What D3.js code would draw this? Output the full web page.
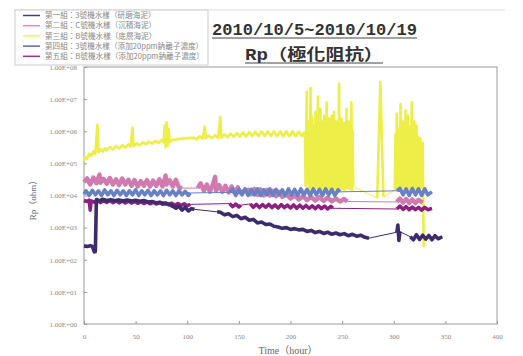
<!DOCTYPE html>
<head>
<meta charset="utf-8">
<title>Rp</title>
<script src="https://d3js.org/d3.v7.min.js"></script>
<style>
  body { margin: 0; background: #fff; }
  svg { display: block; }
</style>
</head>
<body>
<div id="container"></div>
<script>
// ---------------------------- DATA ---------------------------- //
// [time (hour), Rp (ohm)]
var seriesNames = [
  "第一組：3號機水樣（研磨海泥）",
  "第二組：C號機水樣（沉積海泥）",
  "第三組：B號機水樣（底層海泥）",
  "第四組：3號機水樣（添加20ppm鈉離子濃度）",
  "第五組：B號機水樣（添加20ppm鈉離子濃度）"
];
var seriesColors = ["#3c2c6c", "#d07ab0", "#eeee48", "#6880c4", "#8c1f80"];
var legendColors = ["#4a3c80", "#d890c8", "#f0f070", "#5868a8", "#a03090"];

var xTicks = [0, 50, 100, 150, 200, 250, 300, 350, 400];
var yTicks = [1e0, 1e1, 1e2, 1e3, 1e4, 1e5, 1e6, 1e7, 1e8];

var group1 = [[0,270],[3,260],[6,275],[8,265],[10,175],[11,180],[12,7500],[15,6800],[18,7600],[22,7000],[26,7400],[30,6900],[34,7300],[38,6800],[42,7200],[46,6700],[50,7100],[54,6600],[58,7000],[62,6300],[66,6500],[70,5900],[74,6100],[78,5600],[82,5400],[86,4600],[89,4000],[92,4600],[95,3500],[98,4300],[101,3300],[104,3900],[107,3700],[129,3100],[132,3000],[136,2500],[140,2700],[144,2200],[148,2400],[152,1900],[156,2100],[160,1700],[164,1800],[168,1400],[172,1500],[176,1250],[180,1300],[184,1100],[188,1050],[192,950],[196,1000],[200,880],[204,930],[208,850],[212,880],[216,760],[220,820],[224,700],[228,760],[232,660],[236,720],[240,620],[244,680],[248,600],[252,650],[256,560],[260,620],[264,540],[268,580],[272,500],[276,470],[303,720],[304,1200],[305,400],[306,750],[316,520],[319,420],[322,600],[325,430],[328,580],[331,440],[334,570],[337,420],[340,560],[343,450],[347,520]];

var group2 = [[0,26000],[3,34000],[6,22000],[9,36000],[12,24000],[15,45000],[16,25000],[19,33000],[22,23000],[25,35000],[28,22000],[31,32000],[34,21000],[37,34000],[40,22000],[43,31000],[46,20000],[49,30000],[52,19000],[55,28000],[58,20000],[61,30000],[64,19000],[67,29000],[70,20000],[73,32000],[76,19000],[79,42000],[80,22000],[83,30000],[86,19000],[89,31000],[92,18000],[95,17000],[110,17000],[113,24000],[116,14000],[119,22000],[122,13000],[125,23000],[127,38000],[128,14000],[131,21000],[134,13000],[137,20000],[140,12500],[143,19000],[146,12000],[149,18000],[151,12500],[159,15000],[162,11000],[165,16000],[168,10500],[171,15500],[174,10000],[177,15000],[180,10000],[183,14000],[186,9500],[189,13000],[192,9000],[196,11000],[200,8000],[204,10000],[208,7500],[212,9500],[216,7200],[220,9000],[224,7000],[228,8800],[232,6800],[236,8500],[240,6600],[244,8000],[248,6500],[252,7800],[255,6500],[303,6300],[306,8000],[309,6000],[312,7800],[315,5800],[318,7600],[321,5800],[324,7400],[328,6000]];

var group3 = [[0,1.2e5],[1,1.6e5],[3,1.4e5],[5,2.0e5],[7,1.7e5],[9,2.4e5],[11,2.0e5],[13,1.6e6],[14,2.2e5],[16,2.8e5],[18,2.3e5],[20,3.0e5],[22,2.5e5],[25,3.2e5],[28,2.7e5],[31,3.5e5],[34,2.9e5],[37,3.7e5],[40,3.1e5],[43,3.9e5],[45,3.3e5],[47,1.3e6],[48,3.4e5],[51,4.2e5],[54,3.6e5],[57,4.5e5],[60,3.9e5],[63,4.8e5],[66,4.1e5],[69,5.0e5],[72,4.3e5],[75,5.3e5],[77,4.5e5],[78,1.5e6],[79,3.2e5],[80,1.9e6],[81,3.5e5],[82,1.2e6],[83,4.6e5],[86,5.4e5],[90,5.6e5],[95,5.9e5],[100,6.1e5],[106,6.3e5],[109,5.6e5],[112,7.0e5],[115,5.9e5],[117,1.4e6],[118,6.0e5],[121,7.3e5],[124,6.1e5],[127,7.5e5],[130,6.2e5],[132,2.8e6],[133,6.3e5],[136,8.0e5],[139,6.5e5],[142,8.4e5],[145,6.7e5],[148,8.8e5],[151,6.8e5],[154,9.2e5],[157,6.9e5],[160,9.5e5],[163,7.0e5],[166,9.8e5],[169,7.0e5],[172,1.0e6],[175,7.1e5],[178,1.0e6],[181,7.1e5],[184,1.0e6],[187,7.0e5],[190,1.0e6],[193,7.0e5],[196,1.0e6],[199,7.0e5],[202,1.0e6],[205,7.0e5],[208,9.8e5],[211,7.0e5],[213,9.0e5],
  [214,7e5],[214.6,2e4],[215.2,9e5],[215.8,1.7e7],[216.4,2.5e4],[217,1.2e6],[217.6,1.8e4],[218.2,2e6],[218.8,1.5e4],[219.4,2.2e7],[220,2e4],[220.6,3e6],[221.2,1.8e4],[221.8,8e5],[222.4,2.5e4],[223,1.5e6],[223.6,1.6e4],[224.2,4e6],[224.8,2e4],[225.4,1e6],[226,1.7e4],[226.6,1.2e7],[227.2,2.2e4],[227.8,1.3e6],[228.4,1.6e4],[229,5e6],[229.6,2.4e4],[230.2,9e5],[230.8,1.5e4],[231.4,2e6],[232,2e4],[232.6,3e6],[233.2,1.7e4],[233.8,1.1e6],[234.4,2.3e4],[235,8e6],[235.6,1.6e4],[236.2,1.4e6],[236.8,2e4],[237.4,2.5e6],[238,1.5e4],[238.6,9e5],[239.2,2.2e4],[239.8,3e6],[240.4,1.7e4],[241,1.2e6],[241.6,2e4],[242.2,4e6],[242.8,1.6e4],[243.4,1e6],[244,2.4e4],[244.6,2e6],[245.2,1.5e4],[245.8,1.3e6],[246.4,2e4],[247,3e7],[247.6,1.7e4],[248.2,1.1e6],[248.8,2.2e4],[249.4,2.5e6],[250,1.6e4],[250.6,9e5],[251.2,2e4],[251.8,1.8e6],[252.4,1.5e4],[253,1.2e6],[253.6,2.2e4],[254.2,5e6],[254.8,1.7e4],[255.4,1e6],[256,2e4],[256.6,2e6],[257.2,1.6e4],[257.8,1.3e6],[258.4,2.3e4],[259,8e6],[259.6,1.5e4],[260.2,1e6],[260.8,1.9e4],
  [284,8300],[287,3.4e7],[290,9000],
  [301,1.5e4],[301.7,8e5],[302.4,2e4],[303,3.5e6],[303.6,1.6e4],[304.2,1.2e6],[304.8,2.2e4],[305.4,9e5],[306,1.5e4],[306.6,7e6],[307.2,2e4],[307.8,1.5e6],[308.4,1.7e4],[309,2e6],[309.6,2.3e4],[310.2,1e6],[310.8,1.6e4],[311.4,4.5e6],[312,2e4],[312.6,1.2e6],[313.2,1.5e4],[313.8,3e6],[314.4,2.2e4],[315,9e5],[315.6,1.6e4],[316.2,1.4e6],[316.8,2e4],[317.4,8e6],[318,1.5e4],[318.6,1.1e6],[319.2,2.5e4],[319.8,2e6],[320.4,1.6e4],[321,9e5],[321.6,2e4],[322.2,1.5e6],[322.8,1.5e4],[323.4,7e5],[324,2e4],[324.6,5e5],[325.2,1.6e4],[325.8,6e5],[326.4,1.8e4],[327,4e5],[327.6,2e4],[328,4.4e5],[329,250]];

var group4 = [[0,11000],[2,14000],[5,10000],[8,14500],[11,10500],[14,14000],[17,10000],[20,15000],[23,10500],[26,14000],[29,10000],[32,14500],[35,10500],[38,14000],[41,10000],[44,14000],[47,10500],[50,15000],[53,10000],[56,14000],[59,10500],[62,14500],[65,10000],[68,14000],[71,10500],[74,14000],[77,10000],[80,14500],[83,10500],[86,14000],[89,10000],[92,14000],[95,10500],[98,13500],[101,10000],[103,12000],[141,12500],[144,16000],[147,10000],[150,15500],[153,10500],[156,16000],[159,10000],[162,15500],[165,10500],[168,16000],[171,10000],[174,15000],[177,10500],[180,16000],[183,10000],[186,15500],[189,10500],[192,15000],[195,10000],[198,16000],[201,10500],[204,15500],[207,10000],[210,16000],[213,10500],[216,15500],[219,10000],[222,16000],[225,10500],[228,15500],[231,10000],[234,16000],[237,10500],[240,15500],[243,10000],[246,15000],[248,13000],[303,14000],[306,16500],[309,10500],[312,16000],[315,10000],[318,16500],[321,10500],[324,16000],[327,10000],[330,16000],[333,10500],[337,13000]];

var group5 = [[0,7000],[3,6500],[5,7200],[6,3500],[7,6800],[10,6200],[13,7000],[16,6000],[19,6900],[22,6100],[25,7000],[28,6000],[31,6800],[34,5900],[37,6700],[40,5900],[43,6600],[46,5800],[49,6500],[52,5700],[55,6400],[58,5600],[61,6300],[64,5500],[67,6200],[70,5400],[73,6100],[76,5300],[79,5900],[82,5200],[85,5800],[88,5000],[91,5600],[94,4900],[97,5500],[100,4800],[103,5300],[141,5600],[144,4500],[147,5400],[150,4400],[152,5000],[161,5500],[164,4300],[167,5300],[170,4200],[173,5200],[176,4300],[179,5300],[182,4200],[185,5100],[188,4100],[191,5200],[194,4200],[197,5000],[200,4100],[203,5100],[206,4000],[209,5000],[212,4000],[215,4900],[218,4000],[221,4800],[224,3900],[227,4800],[230,3900],[233,4700],[236,3800],[239,4600],[241,4000],[303,3800],[306,4700],[309,3700],[312,4500],[315,3600],[318,4400],[321,3600],[324,4300],[327,3500],[330,4300],[333,3600],[337,4000]];

var allSeries = [group1, group2, group3, group4, group5];
var drawOrder = [2, 1, 3, 4, 0];

// ---------------------------- SVG ----------------------------- //
var W = 523, H = 356;
var plot = { left: 84, right: 497, top: 67, bottom: 324 };

var svg = d3.select("#container").append("svg")
  .attr("width", W).attr("height", H);

svg.append("rect").attr("width", W).attr("height", H).attr("fill", "#fff");

var xScale = d3.scaleLinear().domain([0, 400]).range([plot.left, plot.right]);
var yScale = d3.scaleLog().domain([1, 1e8]).range([plot.bottom, plot.top]);

// outer top line
svg.append("line")
  .attr("x1", 15).attr("x2", 505).attr("y1", 10).attr("y2", 10)
  .attr("stroke", "#ddd").attr("stroke-width", 1);

// --------------------------- AXES ----------------------------- //
var sciFmt = function (d) {
  var e = Math.round(Math.log10(d));
  return "1.00E+" + (e < 10 ? "0" + e : e);
};

var yAxis = d3.axisLeft(yScale)
  .tickValues(yTicks)
  .tickFormat(sciFmt)
  .tickSizeInner(-3).tickSizeOuter(0)
  .tickPadding(7);

var xAxis = d3.axisBottom(xScale)
  .tickValues(xTicks)
  .tickFormat(d3.format("d"))
  .tickSizeInner(-3).tickSizeOuter(0)
  .tickPadding(10);

var gy = svg.append("g")
  .attr("transform", "translate(" + plot.left + ",0)")
  .call(yAxis);
var gx = svg.append("g")
  .attr("transform", "translate(0," + plot.bottom + ")")
  .call(xAxis);

[gx, gy].forEach(function (g) {
  g.select(".domain").remove();
  g.selectAll(".tick line").attr("stroke", "#999");
  g.selectAll(".tick text")
    .attr("fill", "#888")
    .style("font-family", "Liberation Serif, serif")
    .style("font-size", "7px");
});

svg.append("rect")
  .attr("x", plot.left).attr("y", plot.top)
  .attr("width", plot.right - plot.left).attr("height", plot.bottom - plot.top)
  .attr("fill", "none").attr("stroke", "#9a9a9a").attr("stroke-width", 1);

// --------------------------- LINES ---------------------------- //
var line = d3.line()
  .x(function (d) { return xScale(d[0]); })
  .y(function (d) { return yScale(d[1]); });

var thick = [3.6, 4.4, 2.6, 3.6, 3.5];

// runs of closely spaced readings are drawn as a thick noisy band,
// the long gaps between them as a thin joining line
function splitRuns(data) {
  var runs = [], cur = [data[0]];
  for (var k = 1; k < data.length; k++) {
    if (data[k][0] - data[k - 1][0] >= 9) { runs.push(cur); cur = []; }
    cur.push(data[k]);
  }
  runs.push(cur);
  return runs.filter(function (r) { return r.length > 1; });
}

drawOrder.forEach(function (i) {
  var g = svg.append("g");
  g.append("path")
    .datum(allSeries[i])
    .attr("fill", "none")
    .attr("stroke", seriesColors[i])
    .attr("stroke-width", 1)
    .attr("d", line);
  g.selectAll(".run")
    .data(splitRuns(allSeries[i]))
    .enter().append("path")
    .attr("fill", "none")
    .attr("stroke", seriesColors[i])
    .attr("stroke-width", thick[i])
    .attr("stroke-linejoin", "round")
    .attr("d", line);
});

// -------------------------- LEGEND ---------------------------- //
var legend = svg.append("g");
legend.append("rect")
  .attr("x", 15).attr("y", 10).attr("width", 193).attr("height", 55)
  .attr("fill", "#fff").attr("stroke", "#ccc").attr("stroke-width", 1);

var items = legend.selectAll(".item")
  .data(seriesNames)
  .enter().append("g")
  .attr("transform", function (d, i) { return "translate(0," + (15.5 + i * 10.2) + ")"; });

items.append("line")
  .attr("x1", 23).attr("x2", 40)
  .attr("stroke", function (d, i) { return legendColors[i]; })
  .attr("stroke-width", 1.5);

items.append("text")
  .attr("x", 45).attr("dy", "0.35em")
  .attr("fill", "#888")
  .style("font-family", "Noto Sans CJK TC, sans-serif")
  .style("font-size", "7.6px")
  .text(function (d) { return d; });

// -------------------------- TITLES ---------------------------- //
svg.append("text")
  .attr("x", 314.5).attr("y", 35)
  .attr("text-anchor", "middle")
  .attr("textLength", 205).attr("lengthAdjust", "spacingAndGlyphs")
  .attr("fill", "#333")
  .style("font-family", "Liberation Mono, monospace")
  .style("font-weight", "bold")
  .style("font-size", "17px")
  .text("2010/10/5~2010/10/19");
svg.append("line")
  .attr("x1", 212).attr("x2", 417).attr("y1", 38).attr("y2", 38)
  .attr("stroke", "#444").attr("stroke-width", 1.2);

svg.append("text")
  .attr("x", 314).attr("y", 60)
  .attr("text-anchor", "middle")
  .attr("textLength", 138).attr("lengthAdjust", "spacingAndGlyphs")
  .attr("fill", "#333")
  .style("font-family", "Liberation Mono, Noto Sans CJK TC, monospace")
  .style("font-weight", "bold")
  .style("font-size", "16px")
  .text("Rp（極化阻抗）");
svg.append("line")
  .attr("x1", 245).attr("x2", 383).attr("y1", 63).attr("y2", 63)
  .attr("stroke", "#444").attr("stroke-width", 1.2);

// axis titles
svg.append("text")
  .attr("transform", "translate(36,198) rotate(-90)")
  .attr("text-anchor", "middle")
  .attr("fill", "#666")
  .style("font-family", "Liberation Serif, Noto Sans CJK TC, serif")
  .style("font-size", "9px")
  .text("Rp（ohm）");

svg.append("text")
  .attr("x", 288).attr("y", 354)
  .attr("text-anchor", "middle")
  .attr("fill", "#666")
  .style("font-family", "Liberation Serif, Noto Sans CJK TC, serif")
  .style("font-size", "10px")
  .text("Time（hour）");
</script>
</body>
